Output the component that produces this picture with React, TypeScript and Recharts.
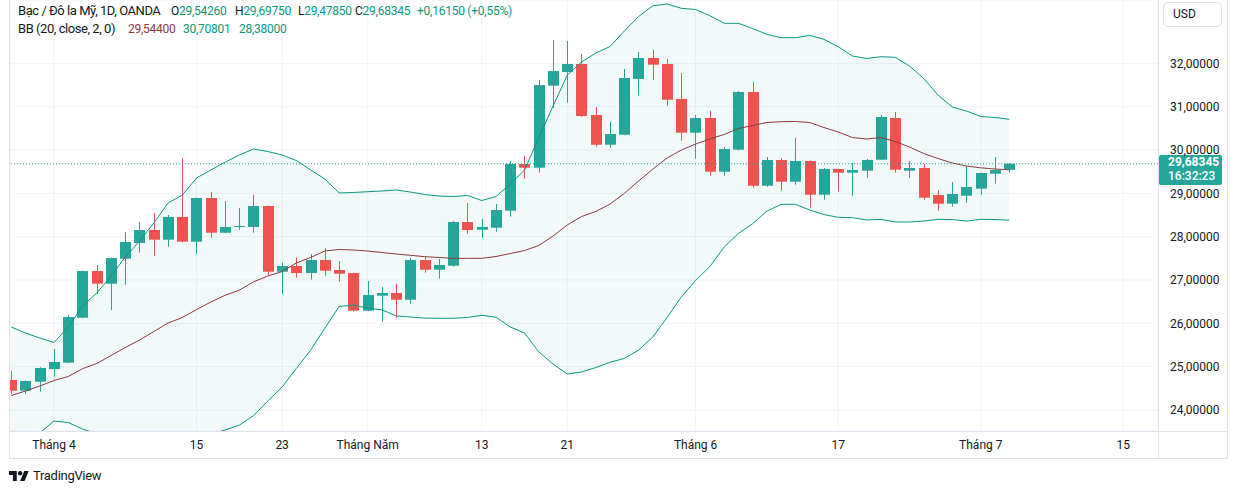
import React from 'react';
import { ComposedChart, XAxis, YAxis, CartesianGrid, Area, Line, Bar, ReferenceLine } from 'recharts';

// ---- data (Silver / USD, daily, OANDA) ----
const OPEN = [24.692, 24.445, 24.653, 24.946, 25.091, 26.13, 27.207, 26.914, 27.491, 27.854, 28.154, 27.93, 28.454, 27.884, 28.892, 28.091, 28.223, 28.223, 28.708, 27.191, 27.323, 27.161, 27.461, 27.231, 27.161, 26.291, 26.637, 26.7, 26.545, 27.461, 27.237, 27.33, 28.338, 28.161, 28.207, 28.599, 29.677, 29.592, 31.484, 31.8, 31.985, 30.808, 30.122, 30.353, 31.639, 32.123, 31.985, 31.177, 30.399, 30.739, 29.499, 30.007, 31.339, 29.176, 29.769, 29.268, 29.746, 28.968, 29.561, 29.476, 29.522, 29.776, 30.739, 29.522, 29.585, 28.961, 28.761, 28.945, 29.107, 29.453, 29.5426];
const HIGH = [24.906, 24.68, 24.985, 25.407, 26.199, 27.22, 27.346, 27.52, 28.108, 28.345, 28.546, 28.5, 29.815, 28.9, 29.031, 28.823, 28.661, 28.961, 28.72, 27.399, 27.514, 27.6, 27.738, 27.438, 27.17, 26.977, 26.838, 26.907, 27.507, 27.554, 27.484, 28.361, 28.777, 28.408, 28.754, 29.746, 29.862, 31.615, 32.539, 32.516, 32.216, 30.992, 30.646, 31.869, 32.262, 32.308, 32.1, 31.777, 30.808, 30.9, 30.069, 31.362, 31.569, 29.838, 29.815, 30.277, 29.76, 29.585, 29.57, 29.7, 29.792, 30.808, 30.877, 29.746, 29.677, 29.077, 29.261, 29.631, 29.48, 29.838, 29.6975];
const LOW = [24.369, 24.362, 24.422, 24.768, 25.08, 26.12, 26.677, 26.307, 26.891, 27.63, 27.554, 27.768, 27.87, 27.607, 27.976, 28.08, 28.161, 28.091, 27.115, 26.684, 27.053, 27.007, 27.099, 26.961, 26.268, 26.28, 26.037, 26.13, 26.453, 27.168, 27.03, 27.307, 28.068, 27.976, 28.114, 28.461, 29.338, 29.476, 30.976, 31.092, 30.762, 30.076, 30.053, 30.34, 31.253, 31.615, 31.022, 30.215, 29.8, 29.407, 29.407, 29.99, 29.13, 29.153, 29.061, 29.199, 28.668, 28.853, 29.038, 28.945, 29.361, 29.77, 29.476, 29.361, 28.853, 28.599, 28.691, 28.784, 28.968, 29.222, 29.4785];
const CLOSE = [24.445, 24.669, 24.969, 25.107, 26.146, 27.207, 26.914, 27.507, 27.877, 28.154, 27.93, 28.454, 27.884, 28.892, 28.091, 28.223, 28.246, 28.708, 27.191, 27.323, 27.161, 27.461, 27.214, 27.145, 26.291, 26.654, 26.7, 26.545, 27.461, 27.237, 27.346, 28.338, 28.154, 28.223, 28.615, 29.677, 29.592, 31.5, 31.823, 31.985, 30.785, 30.122, 30.369, 31.662, 32.123, 31.969, 31.161, 30.399, 30.739, 29.499, 30.023, 31.339, 29.176, 29.769, 29.268, 29.746, 28.968, 29.561, 29.476, 29.538, 29.769, 30.762, 29.545, 29.585, 28.899, 28.761, 28.985, 29.146, 29.469, 29.538, 29.68345];

// Bollinger Bands (20, close, 2)
const BB_BASIS = [24.334, 24.438, 24.553, 24.68, 24.773, 24.953, 25.073, 25.257, 25.442, 25.615, 25.81, 26.007, 26.134, 26.319, 26.492, 26.647, 26.765, 26.96, 27.092, 27.196, 27.392, 27.52, 27.669, 27.704, 27.692, 27.669, 27.634, 27.6, 27.57, 27.538, 27.52, 27.5, 27.5, 27.5, 27.542, 27.611, 27.68, 27.796, 28.015, 28.27, 28.465, 28.58, 28.754, 28.996, 29.285, 29.56, 29.815, 30.0, 30.138, 30.254, 30.358, 30.496, 30.565, 30.635, 30.653, 30.658, 30.635, 30.519, 30.415, 30.288, 30.254, 30.288, 30.196, 30.069, 29.919, 29.804, 29.7, 29.63, 29.589, 29.561, 29.544];
const BB_UPPER = [25.915, 25.777, 25.661, 25.557, 25.915, 26.4, 26.7, 27.09, 27.53, 27.9, 28.315, 28.777, 28.96, 29.354, 29.54, 29.72, 29.885, 30.023, 29.965, 29.885, 29.758, 29.54, 29.33, 29.008, 29.02, 29.038, 29.054, 29.077, 29.03, 28.973, 28.938, 28.927, 28.95, 28.835, 28.927, 29.215, 29.54, 30.277, 31.015, 31.731, 32.031, 32.239, 32.389, 32.746, 33.081, 33.328, 33.37, 33.27, 33.243, 33.1, 32.924, 32.924, 32.804, 32.67, 32.592, 32.592, 32.647, 32.555, 32.384, 32.169, 32.112, 32.153, 32.139, 31.939, 31.65, 31.269, 30.992, 30.9, 30.773, 30.75, 30.70801];
const BB_LOWER = [22.75, 23.1, 23.47, 23.746, 23.71, 23.56, 23.45, 23.42, 23.35, 23.33, 23.31, 23.24, 23.31, 23.28, 23.44, 23.54, 23.65, 23.87, 24.21, 24.53, 24.96, 25.38, 25.89, 26.39, 26.42, 26.35, 26.31, 26.17, 26.146, 26.12, 26.116, 26.116, 26.134, 26.185, 26.14, 25.915, 25.777, 25.34, 25.06, 24.83, 24.877, 24.98, 25.1, 25.19, 25.38, 25.685, 26.134, 26.61, 26.99, 27.31, 27.76, 28.073, 28.3, 28.59, 28.747, 28.747, 28.615, 28.51, 28.447, 28.438, 28.385, 28.4, 28.338, 28.338, 28.36, 28.4, 28.396, 28.36, 28.4, 28.396, 28.38];

// x-axis ticks (bar index) and labels
const TICK_POS = [3, 13, 19, 25, 33, 39, 48, 58, 68, 78];
const TICK_LABELS = ['Tháng 4', '15', '23', 'Tháng Năm', '13', '21', 'Tháng 6', '17', 'Tháng 7', '15'];
const PRICE_TICKS = [24, 25, 26, 27, 28, 29, 30, 31, 32];

const LAST_OPEN = 29.5426;
const LAST_HIGH = 29.6975;
const LAST_LOW = 29.4785;
const LAST_CLOSE = 29.68345;
const CHANGE = 0.1615;
const CHANGE_PCT = 0.55;
const COUNTDOWN = '16:32:23';

const X_DOMAIN: [number, number] = [-0.087, 80.43];
const Y_DOMAIN: [number, number] = [23.515, 33.462];

const UP = '#26a69a';
const DOWN = '#ef5350';
const BAND = '#089981';
const BASIS_C = '#8b3a3a';
const TEXT = '#131722';
const GRID = '#f0f3fa';
const BORDER = '#e0e3eb';
const FONT = "Roboto, 'Noto Sans', Arial, sans-serif";

const fmt = (v: number, d = 5) => v.toFixed(d).replace('.', ',');

const data = OPEN.map((o, i) => ({
  i,
  o,
  h: HIGH[i],
  l: LOW[i],
  c: CLOSE[i],
  range: [LOW[i], HIGH[i]],
  band: [BB_LOWER[i], BB_UPPER[i]],
  upper: BB_UPPER[i],
  lower: BB_LOWER[i],
  basis: BB_BASIS[i],
}));

const Candle = (props: any) => {
  const { x, y, width, height, payload } = props;
  if (x == null || y == null) return null;
  const { o, h, l, c } = payload;
  const up = c >= o;
  const color = up ? UP : DOWN;
  const k = height / (h - l || 1);
  const yO = y + (h - o) * k;
  const yC = y + (h - c) * k;
  const top = Math.min(yO, yC);
  const bh = Math.max(1, Math.abs(yO - yC));
  const bx = Math.round(x);
  const w = Math.round(width);
  const cx = bx + Math.floor(w / 2) + 0.5;
  return (
    <g>
      <line x1={cx} x2={cx} y1={y} y2={y + height} stroke={color} strokeWidth={1} />
      <rect x={bx} y={top} width={w} height={bh} fill={color} />
    </g>
  );
};

const PriceTag = (props: any) => {
  const vb = props.viewBox || {};
  const x = (vb.x || 0) + (vb.width || 0);
  const y = vb.y || 0;
  return (
    <g>
      <rect x={x + 1} y={y - 8.7} width={63} height={30} rx={2} fill={UP} />
      <text x={x + 10} y={y + 2.6} fill="#ffffff" fontSize={12} fontWeight={700} fontFamily={FONT}>
        {fmt(LAST_CLOSE)}
      </text>
      <text x={x + 10} y={y + 16.6} fill="#ffffff" fontSize={12} fontWeight={500} fontFamily={FONT}>
        {COUNTDOWN}
      </text>
    </g>
  );
};

const abs = (style: React.CSSProperties): React.CSSProperties => ({ position: 'absolute', ...style });

export default function App() {
  const hdr: React.CSSProperties = { fontFamily: FONT, fontSize: 12, lineHeight: '16px', color: TEXT, whiteSpace: 'nowrap', letterSpacing: -0.25 };
  const title: React.CSSProperties = { ...hdr, fontSize: 13, letterSpacing: -0.45 };
  const teal = { color: BAND };
  return (
    <div style={abs({ left: 0, top: 0, width: 1237, height: 491, background: '#ffffff', overflow: 'hidden' })}>
      <ComposedChart
        width={1237}
        height={491}
        data={data}
        margin={{ top: 0, right: 9, bottom: 30, left: 10 }}
        style={{ position: 'absolute', left: 0, top: 0 }}
      >
        <CartesianGrid stroke={GRID} strokeWidth={1} />
        <XAxis
          type="number"
          dataKey="i"
          domain={X_DOMAIN}
          allowDataOverflow
          ticks={TICK_POS}
          interval={0}
          tickFormatter={(v: number) => TICK_LABELS[TICK_POS.indexOf(v)] ?? ''}
          axisLine={false}
          tickLine={false}
          tickSize={0}
          tickMargin={9}
          height={30}
          tick={{ fill: TEXT, fontSize: 12, fontFamily: FONT }}
        />
        <YAxis
          orientation="right"
          type="number"
          domain={Y_DOMAIN}
          allowDataOverflow
          ticks={PRICE_TICKS}
          interval={0}
          tickFormatter={(v: number) => fmt(v)}
          axisLine={false}
          tickLine={false}
          tickSize={0}
          tickMargin={12}
          width={70}
          tick={{ fill: TEXT, fontSize: 12, fontFamily: FONT, textAnchor: 'start' }}
        />
        <Area dataKey="band" stroke="none" fill={UP} fillOpacity={0.06} isAnimationActive={false} activeDot={false} />
        <Line dataKey="upper" stroke={BAND} strokeWidth={1} dot={false} isAnimationActive={false} activeDot={false} />
        <Line dataKey="lower" stroke={BAND} strokeWidth={1} dot={false} isAnimationActive={false} activeDot={false} />
        <Line dataKey="basis" stroke={BASIS_C} strokeWidth={1} dot={false} isAnimationActive={false} activeDot={false} />
        <Bar dataKey="range" barSize={11} shape={Candle} isAnimationActive={false} />
        <ReferenceLine y={LAST_CLOSE} stroke={UP} strokeWidth={1} strokeDasharray="1 2" label={<PriceTag />} />
      </ComposedChart>

      {/* frame */}
      <div style={abs({ left: 9, top: 0, width: 1, height: 459, background: BORDER })} />
      <div style={abs({ left: 1227, top: 0, width: 1, height: 459, background: BORDER })} />
      <div style={abs({ left: 1158, top: 0, width: 1, height: 459, background: BORDER })} />
      <div style={abs({ left: 9, top: 431, width: 1219, height: 1, background: BORDER })} />
      <div style={abs({ left: 9, top: 458, width: 1219, height: 1, background: BORDER })} />

      {/* currency box */}
      <div style={abs({ left: 1163, top: 2, width: 48, height: 23, border: `1px solid ${BORDER}`, borderRadius: 5, fontFamily: FONT, fontSize: 12, color: TEXT, lineHeight: '23px', paddingLeft: 9 })}>USD</div>

      {/* legend */}
      <div style={abs({ left: 18, top: 3, ...title })}>Bạc / Đô la Mỹ, 1D, OANDA</div>
      <div style={abs({ left: 171, top: 3, ...hdr })}>O<span style={teal}>{fmt(LAST_OPEN)}</span></div>
      <div style={abs({ left: 235, top: 3, ...hdr })}>H<span style={teal}>{fmt(LAST_HIGH)}</span></div>
      <div style={abs({ left: 298, top: 3, ...hdr })}>L<span style={teal}>{fmt(LAST_LOW)}</span></div>
      <div style={abs({ left: 355, top: 3, ...hdr })}>C<span style={teal}>{fmt(LAST_CLOSE)}</span></div>
      <div style={abs({ left: 417, top: 3, ...hdr, ...teal })}>+{fmt(CHANGE)} (+{fmt(CHANGE_PCT, 2)}%)</div>

      <div style={abs({ left: 18, top: 21, ...title })}>BB (20, close, 2, 0)</div>
      <div style={abs({ left: 128, top: 21, ...hdr, color: BASIS_C })}>{fmt(BB_BASIS[BB_BASIS.length - 1])}</div>
      <div style={abs({ left: 183, top: 21, ...hdr, ...teal })}>{fmt(BB_UPPER[BB_UPPER.length - 1])}</div>
      <div style={abs({ left: 239, top: 21, ...hdr, ...teal })}>{fmt(BB_LOWER[BB_LOWER.length - 1])}</div>

      {/* TradingView attribution */}
      <svg style={abs({ left: 9, top: 471 })} width={20} height={10} viewBox="0 4 36 18">
        <path d="M14 22H7V11H0V4h14v18zM28 22h-8l7.5-18h8L28 22z" fill={TEXT} />
        <circle cx={20} cy={8} r={4} fill={TEXT} />
      </svg>
      <div style={abs({ left: 33, top: 468, fontFamily: FONT, fontSize: 13, color: TEXT, lineHeight: '16px', letterSpacing: -0.3 })}>TradingView</div>
    </div>
  );
}
